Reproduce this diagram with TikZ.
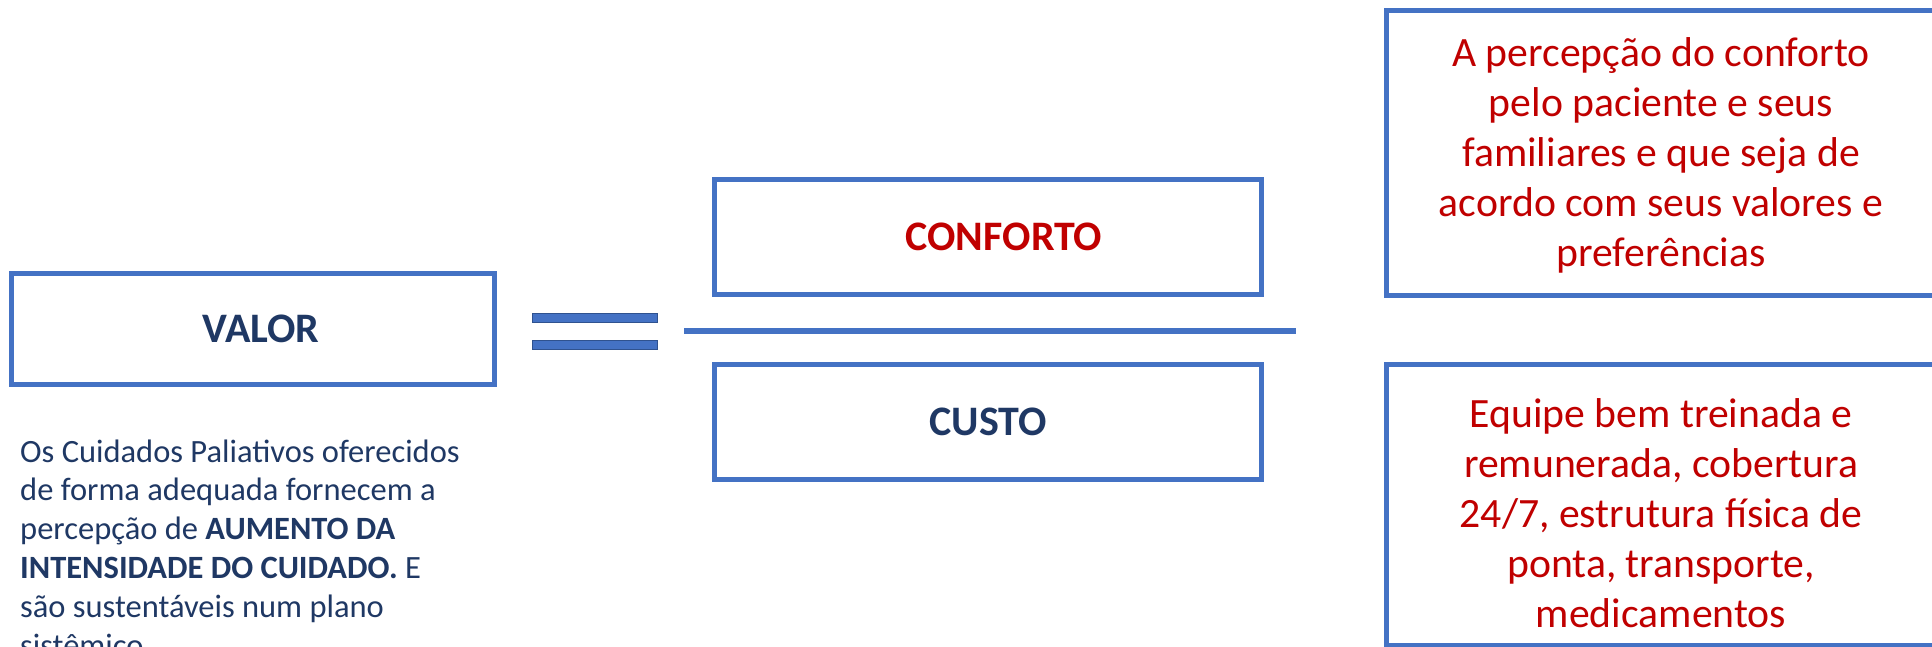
\documentclass[tikz,border=0pt]{standalone}
\usepackage{fontspec}
\setmainfont{Carlito}
\definecolor{bordo}{HTML}{4472C4}
\definecolor{bardark}{HTML}{2F528F}
\definecolor{navy}{HTML}{1F3864}
\definecolor{redtxt}{HTML}{C00000}
\begin{document}
\begin{tikzpicture}[x=1pt,y=-1pt,
  framebox/.style={draw=bordo, line width=5pt, inner sep=0pt, fill=white},
  bigword/.style={font=\bfseries\fontsize{42}{50}\selectfont},
  eqbar/.style={draw=bardark, line width=1pt, fill=bordo, inner sep=0pt, minimum width=125pt, minimum height=9pt},
  redtext/.style={text=redtxt, inner sep=0pt, anchor=base, font=\fontsize{41.7}{50}\selectfont},
  fracline/.style={draw=bordo, line width=6pt}
]
\clip (0,0) rectangle (1932,646);
\fill[white] (0,0) rectangle (1932,646);

% left VALOR box
\node[framebox, bigword, text=navy, minimum width=483pt, minimum height=111pt] (valor) at (253,329) {\hspace*{16pt}VALOR};

% equals sign
\node[eqbar] (eqtop) at (594.5,317.5) {};
\node[eqbar] (eqbot) at (594.5,344.5) {};

% fraction
\node[framebox, bigword, text=redtxt, minimum width=547pt, minimum height=115pt] (conforto) at (988,237) {\hspace*{32pt}CONFORTO};
\coordinate (fracL) at (684,331);
\coordinate (fracR) at (1296,331);
\draw[fracline] (fracL) -- (fracR);
\node[framebox, bigword, text=navy, minimum width=547pt, minimum height=115pt] (custo) at (988,422) {CUSTO};

% right boxes
\node[framebox, minimum width=553.5pt, minimum height=285pt] (confbox) at (1663.25,153) {};
\node[framebox, minimum width=553.5pt, minimum height=281pt] (custbox) at (1663.25,505) {};
\node[redtext] (conftxt) at (1661,66) {\parbox[t]{540pt}{\centering A percepção do conforto\\pelo paciente e seus\\familiares e que seja de\\acordo com seus valores e\\preferências}};
\node[redtext] (custtxt) at (1661,427) {\parbox[t]{540pt}{\centering Equipe bem treinada e\\remunerada, cobertura\\24/7, estrutura física de\\ponta, transporte,\\medicamentos}};

% description text
\node[text=navy, inner sep=0pt, anchor=base west, font=\fontsize{32.5}{38.8}\selectfont] (desc) at (20,462) {\parbox[t]{540pt}{\raggedright Os Cuidados Paliativos oferecidos\\de forma adequada fornecem a\\percepção de \textbf{AUMENTO DA}\\\textbf{INTENSIDADE DO CUIDADO.} E\\são sustentáveis num plano\\sistêmico}};
\end{tikzpicture}
\end{document}
